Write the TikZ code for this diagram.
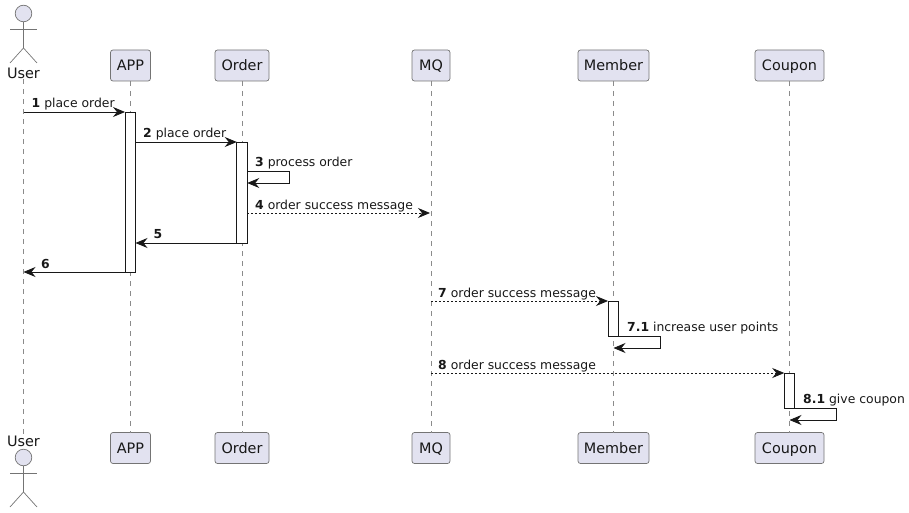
\documentclass[tikz,border=0pt]{standalone}
\usepackage{fontspec}
\setmainfont{DejaVu Sans}
\usepackage{xcolor}
\usetikzlibrary{arrows.meta, positioning}
\definecolor{partfill}{HTML}{E2E2F0}
\definecolor{inkdark}{HTML}{181818}
\tikzset{
    part/.style={draw=inkdark!60, line width=0.7pt, fill=partfill, rounded corners=2.5pt, minimum height=31pt, inner sep=0pt, outer sep=0pt, text height=12pt, text depth=2pt, text=inkdark, font=\fontsize{14.4}{16}\selectfont},
    actorname/.style={inner sep=0pt, outer sep=0pt, text=inkdark, font=\fontsize{14.4}{16}\selectfont},
    actorline/.style={draw=inkdark!60, line width=0.7pt},
    lifeline/.style={draw=inkdark!50, line width=0.5pt, dash pattern=on 5pt off 5pt},
    bar/.style={draw=inkdark, line width=0.7pt, fill=white, minimum width=10.5pt, inner sep=0pt, outer sep=0pt},
    msg/.style={draw=inkdark, line width=0.8pt, -{Stealth[length=12pt, width=10pt, inset=4pt]}},
    msgback/.style={msg, dash pattern=on 2pt off 2pt},
    msglabel/.style={anchor=base west, inner sep=0pt, text=inkdark, font=\fontsize{12.4}{14}\selectfont},
}
\begin{document}
\begin{tikzpicture}[x=1pt, y=-1pt]
            \useasboundingbox (0,0) rectangle (909,513);

            % participants
            \node[actorname, anchor=base] (userTop) at (23.5,79) {User};
            \node[part, minimum width=40pt] (appTop) at (130.5,65.5) {APP};
            \node[part, minimum width=54pt] (orderTop) at (242,65.5) {Order};
            \node[part, minimum width=38pt] (mqTop) at (431,65.5) {MQ};
            \node[part, minimum width=71pt] (memberTop) at (613.5,65.5) {Member};
            \node[part, minimum width=69pt] (couponTop) at (789.5,65.5) {Coupon};

            \node[actorname, anchor=base] (userBot) at (23.5,446) {User};
            \node[part, minimum width=40pt] (appBot) at (130.5,448) {APP};
            \node[part, minimum width=54pt] (orderBot) at (242,448) {Order};
            \node[part, minimum width=38pt] (mqBot) at (431,448) {MQ};
            \node[part, minimum width=71pt] (memberBot) at (613.5,448) {Member};
            \node[part, minimum width=69pt] (couponBot) at (789.5,448) {Coupon};

            % lifelines
            \draw[lifeline] (userTop) -- (userBot);
            \draw[lifeline] (appTop) -- (appBot);
            \draw[lifeline] (orderTop) -- (orderBot);
            \draw[lifeline] (mqTop) -- (mqBot);
            \draw[lifeline] (memberTop) -- (memberBot);
            \draw[lifeline] (couponTop) -- (couponBot);

            % actors
            \draw[actorline, fill=partfill] (23.5,13.5) circle (8.3);
            \draw[actorline] (23.5,22) -- (23.5,48) -- (10,63);
            \draw[actorline] (23.5,48) -- (37,63);
            \draw[actorline] (10,29) -- (37,29);

            \draw[actorline, fill=partfill] (23.5,457.5) circle (8.3);
            \draw[actorline] (23.5,466) -- (23.5,492) -- (10,507);
            \draw[actorline] (23.5,492) -- (37,507);
            \draw[actorline] (10,473) -- (37,473);

            % activations
            \node[bar, minimum height=160pt] (barApp) at (130.25,192) {};
            \node[bar, minimum height=101pt] (barOrder) at (242,192.5) {};
            \node[bar, minimum height=35pt] (barMember) at (613.25,318.5) {};
            \node[bar, minimum height=35pt] (barCoupon) at (789.5,390.5) {};

            % message ends
            \coordinate (userEnd) at (23.5,112);
            \coordinate (procOut) at (barOrder.east |- 0,171.5);
            \coordinate (procIn) at (barOrder.east |- 0,183);
            \coordinate (successOut) at (barOrder.east |- 0,213);
            \coordinate (successIn) at (430,213);
            \coordinate (pointsIn) at (613.5,348);
            \coordinate (couponIn) at (789.5,420);

            % messages
            \draw[msg] (userEnd) -- (barApp.north west);
            \draw[msg] (barApp.east |- barOrder.north) -- (barOrder.north west);
            \draw[msg] (procOut) -- ++(42.5,0) |- (procIn);
            \draw[msgback] (successOut) -- (successIn);
            \draw[msg] (barOrder.south west) -- (barApp.east |- barOrder.south);
            \draw[msg] (barApp.south west) -- (userEnd |- barApp.south);
            \draw[msgback] (mqTop |- barMember.north) -- (barMember.north west);
            \draw[msg] (barMember.south east) -- ++(42,0) |- (pointsIn);
            \draw[msgback] (mqTop |- barCoupon.north) -- (barCoupon.north west);
            \draw[msg] (barCoupon.south east) -- ++(42,0) |- (couponIn);

            % message labels
            \node[msglabel] (lblOne) at (31.5,108) {\textbf{1} place order};
            \node[msglabel] (lblTwo) at (143,137.5) {\textbf{2} place order};
            \node[msglabel] (lblThree) at (255,167) {\textbf{3} process order};
            \node[msglabel] (lblFour) at (255,209) {\textbf{4} order success message};
            \node[msglabel] (lblFive) at (153.5,238) {\textbf{5}};
            \node[msglabel] (lblSix) at (41,268) {\textbf{6}};
            \node[msglabel] (lblSeven) at (438,297) {\textbf{7} order success message};
            \node[msglabel] (lblSevenOne) at (627,331) {\textbf{7.1} increase user points};
            \node[msglabel] (lblEight) at (438,369) {\textbf{8} order success message};
            \node[msglabel] (lblEightOne) at (803,403) {\textbf{8.1} give coupon};

        \end{tikzpicture}
\end{document}
